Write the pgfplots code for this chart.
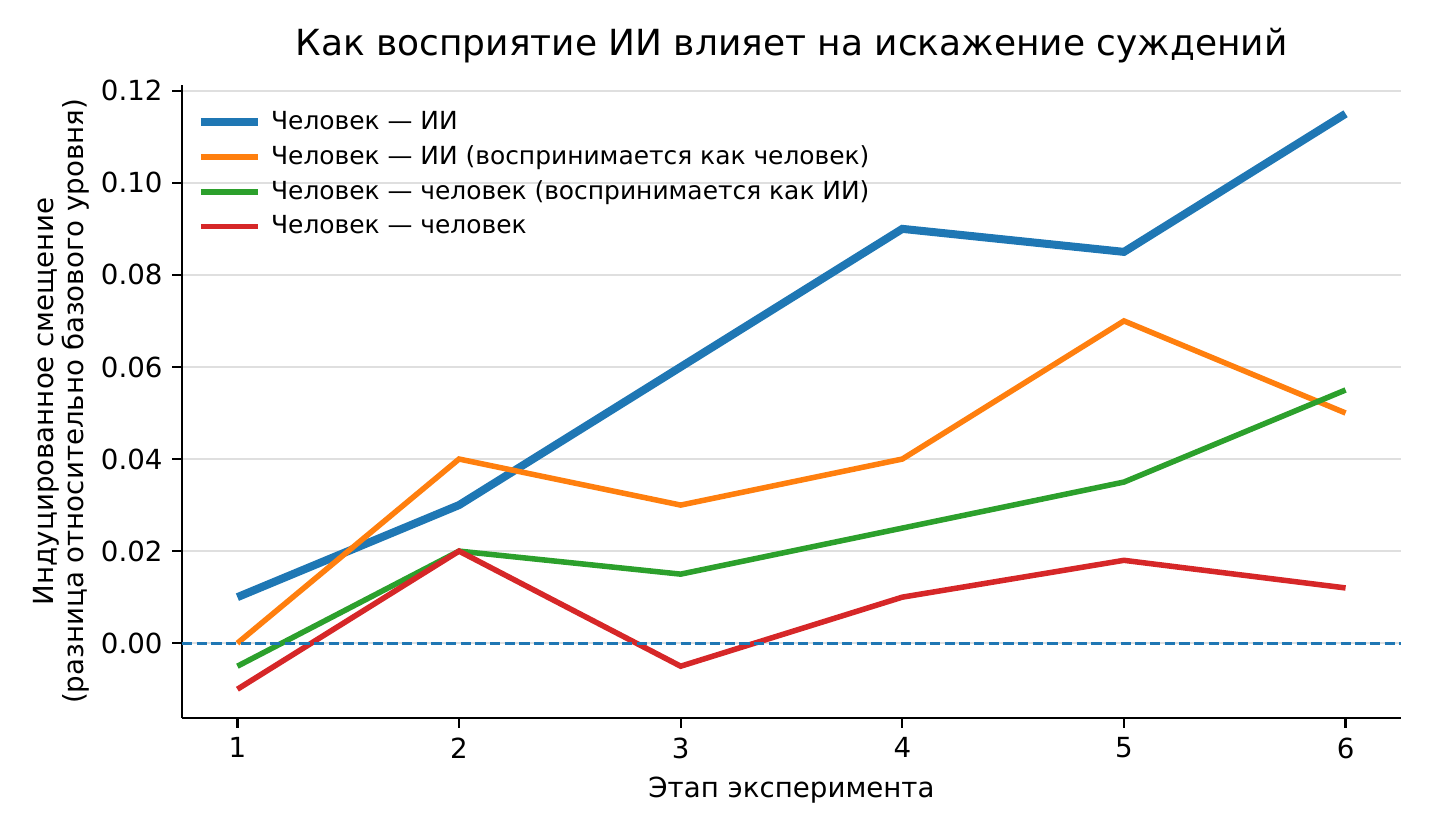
\documentclass[border=0pt]{standalone}
\usepackage{fontspec}
\setmainfont{DejaVu Sans}
\usepackage{pgfplots}
\pgfplotsset{compat=1.18}
\definecolor{c0}{HTML}{1F77B4}
\definecolor{c1}{HTML}{FF7F0E}
\definecolor{c2}{HTML}{2CA02C}
\definecolor{c3}{HTML}{D62728}
\begin{document}
\begin{tikzpicture}
\useasboundingbox (-0.91in,-0.585in) rectangle (6.245in,3.59in);
\begin{axis}[
  at={(0,0)}, anchor=south west,
  scale only axis, width=6.095in, height=3.165in,
  xmin=0.75, xmax=6.25, ymin=-0.01625, ymax=0.12125,
  axis lines*=left, axis line style={line width=0.8pt, -},
  xtick={1,2,3,4,5,6},
  ytick={0,0.02,0.04,0.06,0.08,0.1,0.12},
  yticklabel style={/pgf/number format/fixed, /pgf/number format/precision=2, /pgf/number format/fixed zerofill},
  /pgf/number format/assume math mode=true,
  tick align=outside, major tick length=3.5pt,
  tick style={black, line width=0.8pt},
  ymajorgrids, grid style={gray!25, line width=0.6pt},
  ticklabel style={font=\fontsize{10}{12}\selectfont},
  label style={font=\fontsize{10}{10.8}\selectfont},
  xlabel={Этап эксперимента},
  ylabel={Индуцированное смещение\\(разница относительно базового уровня)},
  ylabel style={align=center},
  ylabel shift=-2.5pt,
  title={Как восприятие ИИ влияет на искажение суждений},
  title style={font=\fontsize{13}{15}\selectfont, yshift=-1.5pt},
  legend style={draw=none, fill=none, at={(0.005,0.977)}, anchor=north west,
    font=\fontsize{9}{10}\selectfont, row sep=0.3pt},
  legend cell align=left,
  legend image code/.code={\draw[#1] (0cm,0cm) -- (0.72cm,0cm); \path (0.77cm,0cm);},
]
\addplot[c0, line width=2.9pt] coordinates {(1,0.01) (2,0.03) (3,0.06) (4,0.09) (5,0.085) (6,0.115)};
\addlegendentry{Человек — ИИ}
\addplot[c1, line width=2pt] coordinates {(1,0.0) (2,0.04) (3,0.03) (4,0.04) (5,0.07) (6,0.05)};
\addlegendentry{Человек — ИИ (воспринимается как человек)}
\addplot[c2, line width=2pt] coordinates {(1,-0.005) (2,0.02) (3,0.015) (4,0.025) (5,0.035) (6,0.055)};
\addlegendentry{Человек — человек (воспринимается как ИИ)}
\addplot[c3, line width=2pt] coordinates {(1,-0.01) (2,0.02) (3,-0.005) (4,0.01) (5,0.018) (6,0.012)};
\addlegendentry{Человек — человек}
\addplot[c0, line width=1pt, dash pattern=on 3.7pt off 1.6pt, forget plot] coordinates {(0.75,0) (6.25,0)};
\end{axis}
\end{tikzpicture}
\end{document}
